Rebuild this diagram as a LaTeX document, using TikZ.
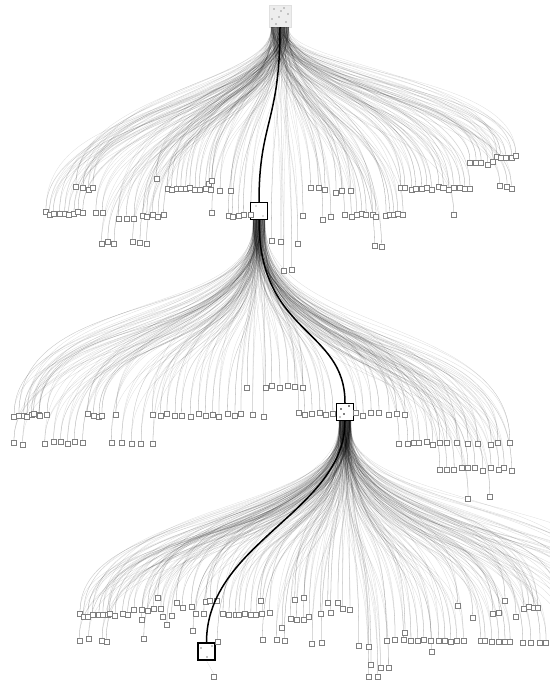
\documentclass[tikz,border=0pt]{standalone}
\tikzset{
  leaf/.style={rectangle,draw=black!50,fill=white,line width=0.45pt,minimum size=5pt,inner sep=0pt},
  hubbox/.style={rectangle,draw=black,fill=white,line width=1.4pt,minimum size=17pt,inner sep=0pt},
  rootbox/.style={rectangle,draw=black!12,fill=black!7,minimum size=22pt,inner sep=0pt},
  edge/.style={draw=black,line width=0.28pt,opacity=0.14},
  spine/.style={draw=black,line width=1.5pt},
  speck/.style={fill=black}
}
\newcount\leafno
% one row of leaves: named top points L<n> and their connectors from the current hub
\newcommand\lrow[4]{%
  \foreach \k in {1,...,#4}{%
    \global\advance\leafno by 1
    \pgfmathsetmacro\lx{#1+(#2-#1)*(\k-1)/max(#4-1,1)+rand*1.2}%
    \pgfmathsetmacro\ly{#3+rand*1.5-2.5}%
    \coordinate (L\the\leafno) at (\lx,\ly);
    \pgfmathsetmacro\dy{\ly-\hy}%
    \foreach \r in {1,2,3}{%
      \pgfmathsetmacro\jx{rand*\hj}%
      \pgfmathsetmacro\ca{(\ka+0.12*rand)*\dy}%
      \pgfmathsetmacro\cb{(0.55+0.12*rand)*\dy}%
      \draw[edge] ([xshift=\jx pt]\hub.south) .. controls +(0,\ca) and +(0,-\cb) .. (L\the\leafno);
    }%
  }%
}
\begin{document}
\begin{tikzpicture}[x=1pt,y=-1pt]
\pgfmathsetseed{4711}
\useasboundingbox[fill=white] (0,0) rectangle (549,685);

% hubs
\node[rootbox] (root) at (280,16) {};
\node[hubbox] (hub1) at (259,211) {};
\node[hubbox] (hub2) at (345,412) {};
\node[hubbox] (hub3) at (206.5,651.5) {};

% specks inside hubs
\foreach \p in {(274,9),(284,8),(288,14),(272,19),(279,17),(286,22),(276,24),(281,11)}
  \fill[black!40] \p circle (0.9pt);
\fill[black!60] (256,206) circle (0.7pt);
\fill[black!60] (263,216) circle (0.7pt);
\fill[speck] (341,409) circle (0.9pt);
\fill[speck] (349,406) circle (0.9pt);
\fill[speck] (344,414) circle (0.8pt);
\fill[speck] (340,417) circle (0.7pt);
\fill[speck] (201,648) circle (0.7pt);
\fill[speck] (212,646) circle (0.7pt);
\fill[speck] (207,657) circle (0.7pt);

% ---------- level 1 (from root) ----------
\def\hub{root}\def\hy{27}\def\hj{9}\def\ka{0.42}
\lrow{45}{83}{213}{9}
\lrow{77}{93}{188}{4}
\lrow{97}{102}{213}{2}
\lrow{102}{115}{243}{3}
\lrow{118}{133}{219}{3}
\lrow{132}{147}{242}{3}
\lrow{142}{163}{215}{5}
\lrow{157}{157}{179}{1}
\lrow{167}{210}{189}{10}
\lrow{209}{213}{182}{2}
\lrow{220}{230}{189}{2}
\lrow{213}{213}{213}{1}
\lrow{228}{250}{216}{5}
\lrow{272}{282}{241}{2}
\lrow{285}{293}{270}{2}
\lrow{298}{298}{243}{1}
\lrow{303}{303}{216}{1}
\lrow{310}{325}{188}{3}
\lrow{323}{332}{218}{2}
\lrow{335}{350}{191}{3}
\lrow{345}{377}{215}{7}
\lrow{375}{382}{246}{2}
\lrow{385}{403}{215}{5}
\lrow{400}{470}{188}{14}
\lrow{453}{453}{216}{1}
\lrow{470}{493}{163}{5}
\lrow{497}{515}{157}{5}
\lrow{500}{512}{187}{3}

% ---------- level 2 (from hub1) ----------
\def\hub{hub1}\def\hy{220}\def\hj{6}\def\ka{0.62}
\lrow{15}{38}{415}{7}
\lrow{40}{47}{415}{2}
\lrow{88}{103}{415}{4}
\lrow{115}{115}{415}{1}
\lrow{153}{242}{415}{13}
\lrow{252}{263}{415}{2}
\lrow{247}{247}{388}{1}
\lrow{265}{303}{387}{6}
\lrow{298}{333}{414}{6}
\lrow{355}{370}{414}{3}
\lrow{380}{405}{414}{4}
\lrow{400}{447}{443}{8}
\lrow{458}{468}{443}{2}
\lrow{477}{490}{443}{2}
\lrow{497}{497}{443}{1}
\lrow{510}{510}{443}{1}
\lrow{440}{512}{469}{11}
\lrow{468}{490}{497}{2}
\lrow{15}{22}{443}{2}
\lrow{45}{60}{443}{3}
\lrow{67}{82}{443}{3}
\lrow{112}{122}{443}{2}
\lrow{132}{152}{443}{3}

% ---------- level 3 (from hub2) ----------
\def\hub{hub2}\def\hy{421}\def\hj{6}\def\ka{0.6}
\lrow{80}{107}{615}{7}
\lrow{110}{128}{614}{4}
\lrow{135}{160}{610}{5}
\lrow{157}{157}{599}{1}
\lrow{162}{172}{616}{2}
\lrow{176}{176}{602}{1}
\lrow{182}{192}{607}{2}
\lrow{195}{203}{613}{2}
\lrow{205}{217}{601}{3}
\lrow{223}{257}{614}{7}
\lrow{260}{260}{601}{1}
\lrow{262}{270}{612}{2}
\lrow{290}{310}{618}{4}
\lrow{295}{303}{599}{2}
\lrow{168}{168}{624}{1}
\lrow{142}{142}{619}{1}
\lrow{80}{88}{640}{2}
\lrow{103}{107}{642}{2}
\lrow{143}{143}{638}{1}
\lrow{193}{193}{630}{1}
\lrow{217}{217}{640}{1}
\lrow{262}{262}{640}{1}
\lrow{277}{285}{640}{2}
\lrow{283}{283}{627}{1}
\lrow{320}{330}{613}{2}
\lrow{328}{337}{603}{2}
\lrow{342}{350}{609}{2}
\lrow{313}{322}{642}{2}
\lrow{359}{359}{645}{1}
\lrow{368}{368}{648}{1}
\lrow{372}{388}{666}{3}
\lrow{368}{377}{677}{2}
\lrow{387}{403}{639}{3}
\lrow{405}{405}{632}{1}
\lrow{412}{463}{640}{9}
\lrow{432}{432}{652}{1}
\lrow{457}{457}{604}{1}
\lrow{472}{472}{617}{1}
\lrow{480}{510}{641}{6}
\lrow{492}{500}{613}{2}
\lrow{505}{505}{599}{1}
\lrow{517}{517}{615}{1}
\lrow{523}{538}{608}{4}
\lrow{523}{547}{642}{4}

% curves leaving the picture on the right
\foreach \i/\px/\py in {1/560/610,2/575/630,3/590/620,4/605/640,5/620/615,6/635/645,7/650/625,8/570/650,9/600/600,10/640/605,11/660/640,12/585/645}{
  \coordinate (P\i) at (\px,\py);
  \foreach \r in {1,2,3}{%
    \pgfmathsetmacro\jx{rand*6}%
    \pgfmathsetmacro\ca{(0.6+0.12*rand)*(\py-421)}%
    \pgfmathsetmacro\cb{(0.55+0.12*rand)*(\py-421)}%
    \draw[edge] ([xshift=\jx pt]hub2.south) .. controls +(0,\ca) and +(0,-\cb) .. (P\i);
  }
}

% leaf nodes on top of their connectors
\edef\nleaves{\the\leafno}
\foreach \i in {1,...,\nleaves}
  \node[leaf,anchor=north] (N\i) at (L\i) {};

% leaf below hub3
\node[leaf] (L3b) at (214,677) {};
\draw[edge] (hub3.south) -- (L3b.north);

% main spine
\draw[spine] (root.south) .. controls +(0,95) and +(0,-80) .. (hub1.north);
\draw[spine] (hub1.south) .. controls +(0,115) and +(0,-75) .. (hub2.north);
\draw[spine] (hub2.south) .. controls +(0,90) and +(0,-100) .. (hub3.north);
\end{tikzpicture}
\end{document}
